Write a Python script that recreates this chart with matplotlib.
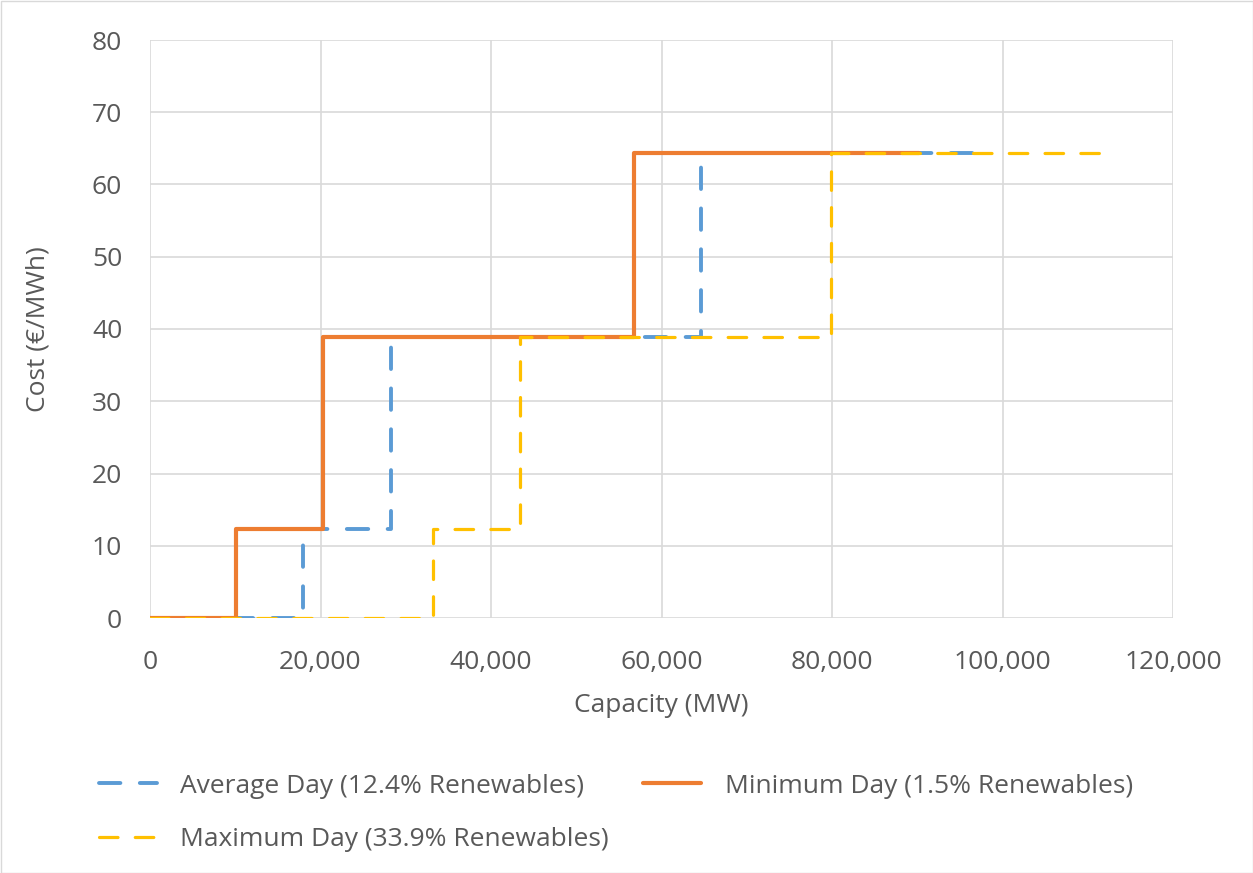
import matplotlib
matplotlib.use("Agg")
import matplotlib.pyplot as plt
from matplotlib.patches import Rectangle

# step points (capacity MW, cost EUR/MWh), drawn with steps-post
avg_x = [0, 17900, 28300, 64600, 98000]
avg_y = [0, 12.3, 38.9, 64.3, 64.3]
min_x = [0, 10100, 20300, 56800, 90200]
min_y = [0, 12.3, 38.9, 64.3, 64.3]
max_x = [0, 33200, 43400, 79900, 112800]
max_y = [0, 12.3, 38.9, 64.3, 64.3]

labels = ["Average Day (12.4% Renewables)",
          "Minimum Day (1.5% Renewables)",
          "Maximum Day (33.9% Renewables)"]

x_ticks = [0, 20000, 40000, 60000, 80000, 100000, 120000]
y_ticks = [0, 10, 20, 30, 40, 50, 60, 70, 80]

plt.rcParams['font.family'] = ['Open Sans', 'DejaVu Sans']
txt = '#595959'
fs = 19

fig = plt.figure(figsize=(12.53, 8.73), dpi=100)
ax = fig.add_axes([150 / 1253, 1 - 618 / 873, 1023 / 1253, 578 / 873])

l1, = ax.plot(avg_x, avg_y, drawstyle='steps-post', color='#5b9bd5', lw=2.8,
              dashes=(5.5, 5), dash_capstyle='round', zorder=3, label=labels[0])
l2, = ax.plot(min_x, min_y, drawstyle='steps-post', color='#ed7d31', lw=3.0,
              solid_capstyle='round', zorder=4, label=labels[1])
l3, = ax.plot(max_x, max_y, drawstyle='steps-post', color='#ffc000', lw=2.3,
              dashes=(5.8, 5.4), dash_capstyle='round', zorder=5, label=labels[2])

ax.set_xlim(0, 120000)
ax.set_ylim(0, 80)
ax.set_xticks(x_ticks)
ax.set_xticklabels([f"{v:,}" for v in x_ticks])
ax.set_yticks(y_ticks)
ax.grid(True, color='#d9d9d9', lw=1.2)
ax.set_axisbelow(True)
for s in ax.spines.values():
    s.set_visible(False)
ax.tick_params(length=0, labelsize=fs, labelcolor=txt)
ax.tick_params(axis='x', pad=23)
ax.tick_params(axis='y', pad=20)

ax.set_xlabel("Capacity (MW)", fontsize=fs, color=txt, labelpad=13)
ax.set_ylabel("Cost (€/MWh)", fontsize=fs, color=txt, labelpad=30)

# column-major fill: l1, l3 in first column, l2 in second
fig.legend(handles=[l1, l3, l2], loc='upper left', bbox_to_anchor=(88 / 1253, 1 - 763 / 873),
           ncol=2, frameon=False, fontsize=fs, labelcolor=txt, handlelength=2.2,
           columnspacing=1.3, handletextpad=0.9, labelspacing=1.08, borderaxespad=0)

fig.patches.append(Rectangle((0.5 / 1253, 0.5 / 873), 1 - 1 / 1253, 1 - 1 / 873,
                             transform=fig.transFigure, fill=False, ec='#d9d9d9', lw=1))

fig.savefig("out.png", dpi=100)
